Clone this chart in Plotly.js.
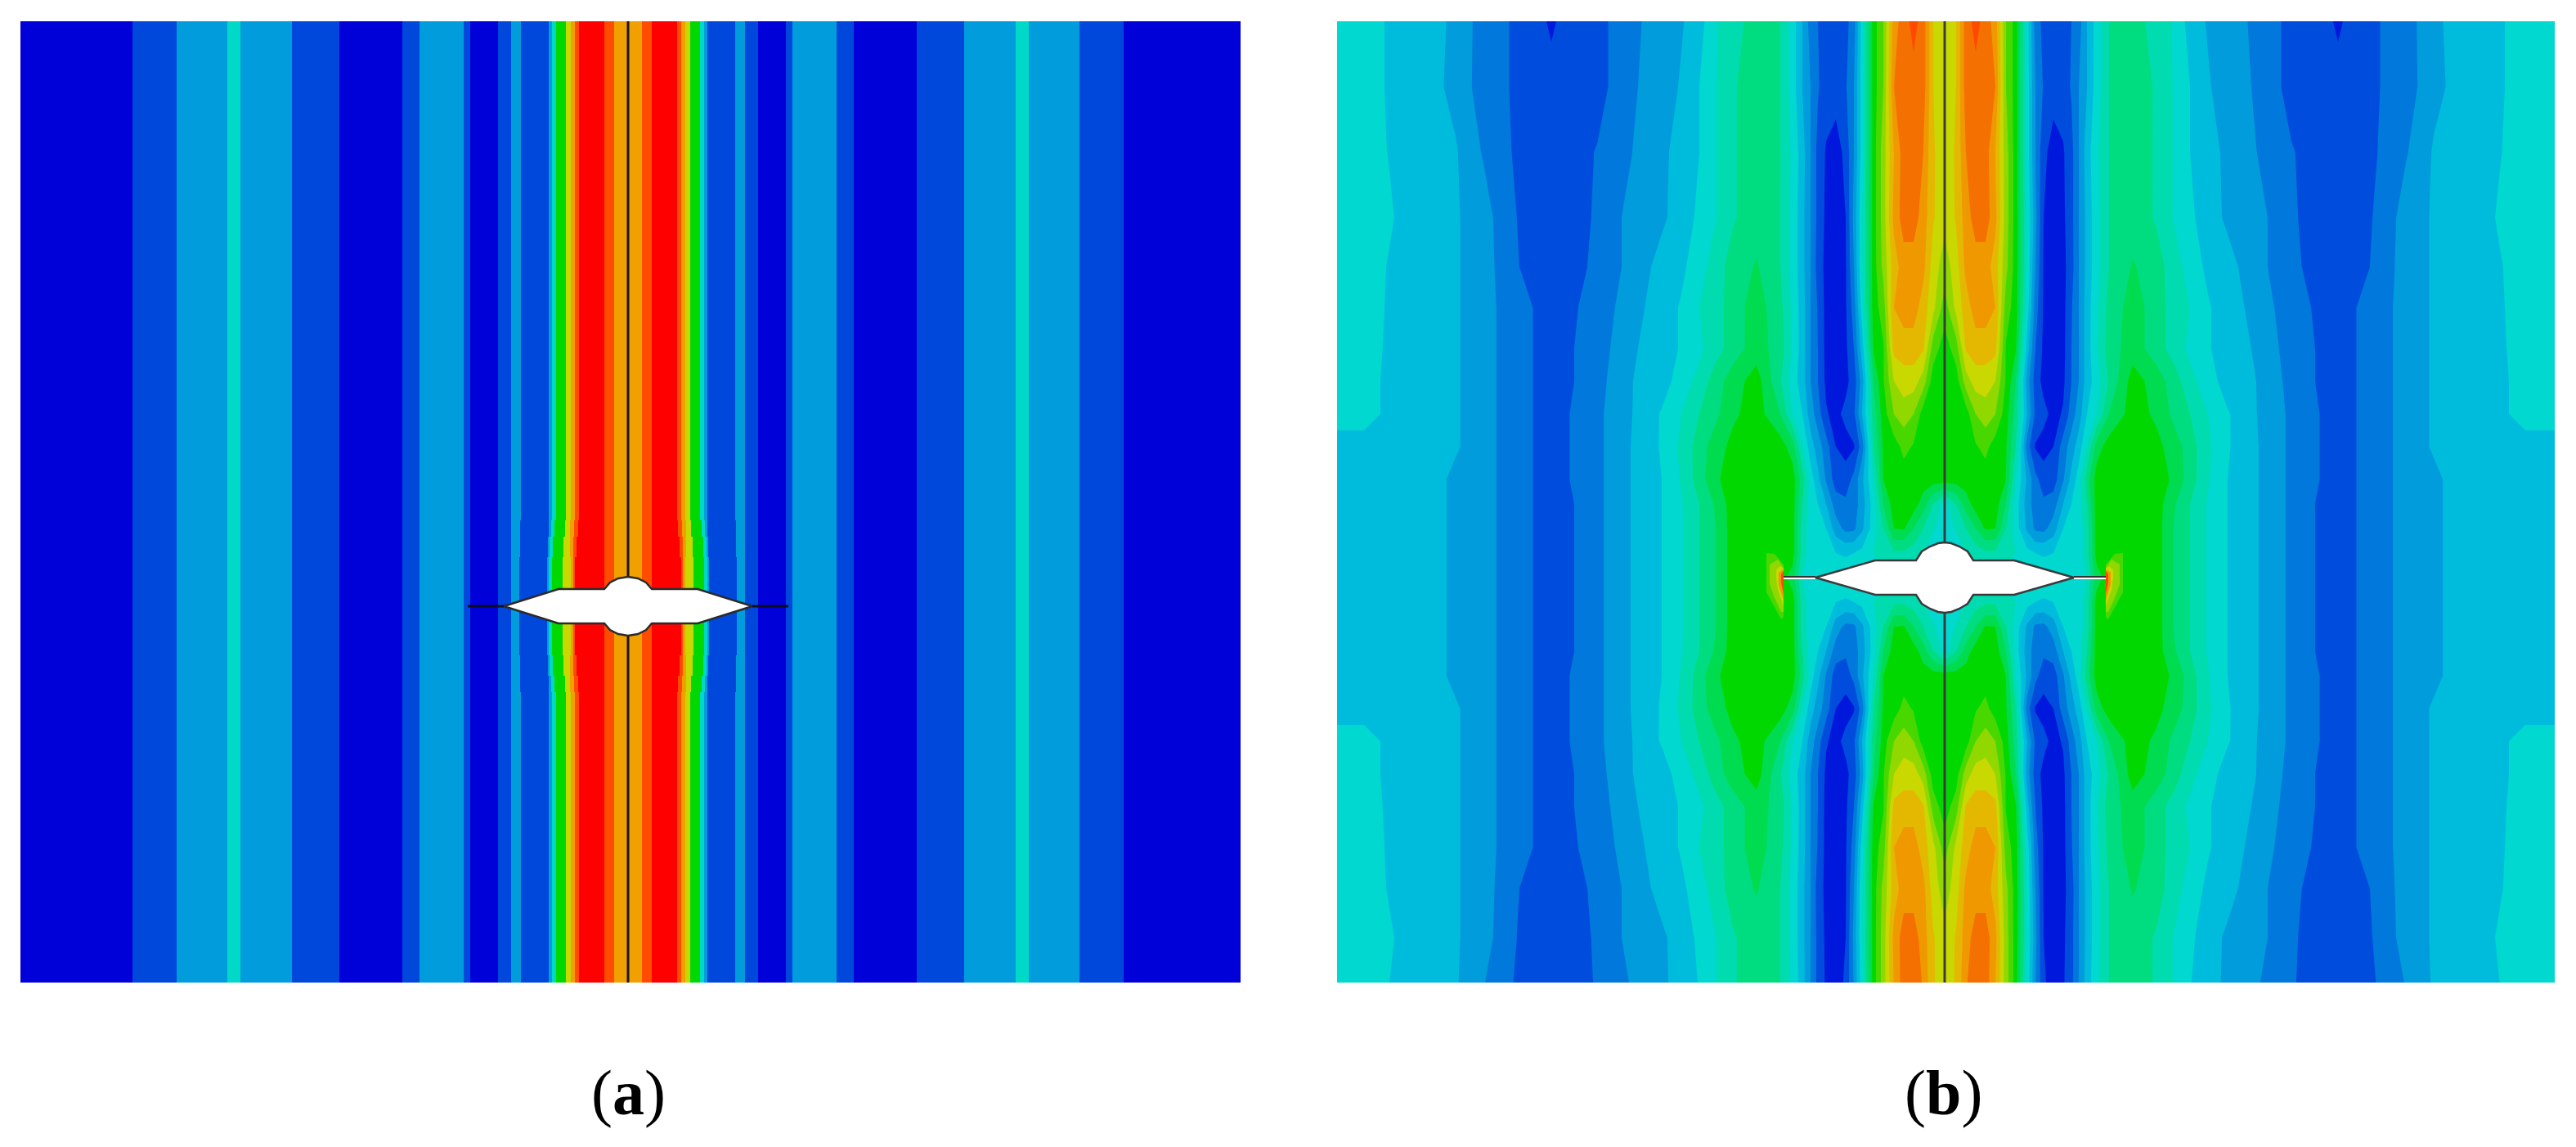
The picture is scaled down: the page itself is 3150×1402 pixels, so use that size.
<!DOCTYPE html>
<html>
<head>
<meta charset="utf-8">
<script src="https://cdn.plot.ly/plotly-3.0.1.min.js"></script>
<style>
    html, body { margin: 0; padding: 0; background: #ffffff; }
    #chart { width: 3150px; height: 1402px; }
</style>
</head>
<body>
<div id="chart"></div>
<script>
// panel (a): stripe colours and stripe outer edges, distance from the centre line
const coloursA = ["#0000d8", "#0048dc", "#009cdc", "#00d8c8", "#00d800", "#c8d800", "#f0a000", "#ff4c00", "#ff0000"];
const bandLevelsA = [6, 7, 8, 7, 6, 5, 4, 3, 2, 1, 2, 1, 0, 1, 2, 1, 0, 1, 2, 3, 2, 1, 0];
const farEdgesA  = [17, 29, 60, 65, 70, 76, 88, 93, 97, 131, 143, 159, 193, 201, 255, 276, 353, 411, 474, 490, 552, 606, 750];
const midEdgesA  = [17, 29, 61, 66, 71, 77, 90, 94, 97, 132, 143, 159, 193, 201, 255, 276, 353, 411, 474, 490, 552, 606, 750];
const nearEdgesA = [17, 29, 63, 67, 71, 79, 92, 96, 98, 132, 143, 159, 193, 201, 255, 276, 353, 411, 474, 490, 552, 606, 750];
const tipEdgesA  = [17, 29, 65, 67, 70, 80, 93, 97, 99, 133, 143, 159, 193, 201, 255, 276, 353, 411, 474, 490, 552, 606, 750];
const rowEdgesA = [-460, -105, -85, -60, 60, 85, 105, 715];
const rowProfilesA = [farEdgesA, midEdgesA, nearEdgesA, tipEdgesA, nearEdgesA, midEdgesA, farEdgesA];

// panel (a): white opening, right upper quarter
const openingDxA = [152, 85, 29, 22, 12, 0];
const openingDyA = [0, 21, 21, 29, 34, 36];

// panel (b): contour colours
const coloursB = ["#0000d8", "#0018dc", "#004cdc", "#0078dc", "#009cdc", "#00bcdc", "#00d8d0", "#00dcb0", "#00dc80",
    "#00dc50", "#00d800", "#48d800", "#90d800", "#c8d800", "#e4b800", "#f09800", "#f47000", "#ff4800", "#ff0000"];

// panel (b): one quarter of the field
const columnsB = [750, 710, 690, 680, 666, 637, 598, 564, 545, 520, 487, 453, 424, 399, 375, 346, 322, 300, 281, 259,
    230, 201, 186, 174, 164, 155, 145, 133, 121, 111, 101, 87, 75, 62, 50, 38, 26, 14, 0];
const rowsB = [685, 600, 520, 440, 380, 330, 280, 240, 200, 160, 120, 90, 60, 30, 0];
const levelsB = [
    [6,6,6,5,5,5,4.3,3,3,2, 2,2,2,3,3.4,4,4.4,5,6.4,7, 8,7.5,6,4.5,3,2.5,2,2,2.2,3, 6,10,11.5,15,16,17,16,13.5,13],
    [6,6,6,5,5,5,4.2,3,3,2, 2,2,2,3,3.5,4,4.6,5.5,6.4,7.4, 8,7.5,6,4.5,3.5,2.6,2,2,2.4,3.5, 6,10,11.5,15.5,16,16,16,13.5,13],
    [6,6,6,5.4,5,5,4.6,3.4,3,2.2, 2,2,2.6,3,3.7,4.2,5,5.5,6.4,7.4, 8,7.5,6.3,5,3.5,2.2,1.4,1,1.8,3.5, 6,10,12,14.5,16,16,15.5,13.6,13],
    [6,6,6,6,5,5,4.6,4,3.2,2.4, 2,2,2.7,3.4,4,4.3,5,5.7,6.4,7.4, 8,7.5,6.2,4.8,3.5,2.2,1.3,1,1.5,3.8, 6.4,10,12,14.8,16,16,15,13.6,12.8],
    [6,6,6,5.3,5,5,4.6,4,3.3,2.5, 2,2,2.9,3.4,4,4.9,5.3,6,7,7.9, 8.6,7.5,6.2,4.8,3.5,2.1,1.2,1,1.4,3.5, 6.4,10,11.8,14,15,15,14.8,13,12],
    [6,6,6,5,5,5,4.6,4,3.4,3, 2,2.4,3,3.6,4.3,5,5.6,6.5,7,8, 9,7.8,6.3,5,3.5,2.4,1.2,1,1.4,3, 6,10,11,14.5,15,15,14,12.8,11],
    [6,6,5.7,5,5,5,4.6,4,3.4,3, 2,2.5,3.2,3.7,4.5,5,5.6,6.3,7,8, 9,8,6.4,5,3.5,2.5,1.2,1,1.3,2.5, 5,9.6,10.4,13.8,14,14,13.6,11,10],
    [6,6,5.5,5,5,5,4.6,4,3.4,3, 2,2.5,3.2,3.9,4.7,5,6,6.8,8,9, 10,7.6,6,5,3.5,2.5,1.3,1,1.2,2, 4,8.5,10.4,12.5,13,13,12,10,10],
    [6,6,5.5,5,5,5,4.6,4,3.4,3, 2,2.6,3.3,4,4.7,5.6,6.5,7.5,8.2,9.3, 10,8.5,6.5,5.5,4,3,1.6,1.2,1.8,2.3, 4.5,8,10,11.5,12,11.5,10,10,10],
    [5,5,5,5,5,5,4.6,4,3.4,3, 2,2.6,3.3,4,4.8,5.6,6.7,8,9,9.8, 10,10,9,6.5,5,4,3,1.5,1.1,1.4, 3,7.5,9.6,10,10.8,10.4,10,10,10],
    [5,5,5,5,5,5,4.3,4,3.4,3, 2,2.6,3.3,4,4.8,5.5,6.6,8,9.3,10, 10,10,10,8,6,4.8,3.4,2,2,2.8, 4.3,6.5,9.5,10,10,10,10,10,10],
    [5,5,5,5,5,5,4.3,4,3.4,3, 2,2.5,3.3,4,4.8,5.5,6.4,7.5,8.6,10, 10,10,10,7.5,6,5.5,4.5,3,2.7,3, 4,6,8.5,10,10,10,9,7.5,6],
    [5,5,5,5,5,5,4.3,4,3.4,3, 2,2.5,3.3,4,4.8,5.5,6.4,7.5,8.4,10, 10,10,10,7,6,6,5.5,4,3.2,3.3, 4.3,6,7.5,9.5,9.6,8.5,7.5,6.6,6],
    [5,5,5,5,5,5,4.3,4,3.4,3, 2,2.5,3.3,4,4.8,5.5,6.4,7.5,8.4,10, 10,10,10,7,6,6,6,5.5,5.4,5.5, 5.8,6.5,7,7.3,7.3,7,6.5,6,6],
    [5,5,5,5,5,5,4.3,4,3.4,3, 2,2.5,3.3,4,4.8,5.5,6.4,7.5,8.4,10, 10,10,9,6.5,6,6,6,6,6,6, 6,6,6,6,6,6,6,6,6]
];

// panel (b): hot spots at the stub ends, outer to inner
const spotLevels = [11, 12, 13, 15, 17];
const spotDx = [
    [218, 208, 197, 197, 200, 212, 218],
    [214, 204, 197, 197, 200, 209, 214],
    [206, 201, 197, 197, 204, 206],
    [203, 197, 197, 203],
    [200, 197, 197, 200]
];
const spotDy = [
    [30, 29, 16, -48, -51, -30, -18],
    [16, 22, 12, -42, -42, -22, -8],
    [10, 14, 11, -35, -15, 0],
    [6, 10, -28, -8],
    [4, 8, -20, -6]
];

// panel (b): small dark wedge at the top edge
const wedgeDx = [487, 475, 481];
const wedgeDy = [680, 680, 655];

// panel (b): white opening, right upper quarter
const openingDxB = [158, 85, 35, 28, 18, 8, 0];
const openingDyB = [0, 21, 21, 32, 38, 42, 43];

const captions = ["(<b>a</b>)", "(<b>b</b>)"];

function stripeGridA() {
    const all = new Set([0]);
    [farEdgesA, midEdgesA, nearEdgesA, tipEdgesA].forEach(edges => edges.forEach(e => { all.add(e); all.add(-e); }));
    const xs = Array.from(all).sort((a, b) => a - b);
    const z = rowProfilesA.map(edges => {
        const row = [];
        for (let i = 0; i < xs.length - 1; i++) {
            const mid = Math.abs((xs[i] + xs[i + 1]) / 2);
            const band = edges.findIndex(e => mid < e);
            row.push(bandLevelsA[band]);
        }
        return row;
    });
    return { xs: xs, z: z };
}

// closes the quarter outline around the four quadrants
function openingOutline(dx, dy) {
    const n = dx.length;
    const x = [], y = [];
    for (let i = 0; i < n; i++) { x.push(dx[i]); y.push(dy[i]); }
    for (let i = n - 2; i >= 0; i--) { x.push(-dx[i]); y.push(dy[i]); }
    for (let i = 1; i < n; i++) { x.push(-dx[i]); y.push(-dy[i]); }
    for (let i = n - 2; i >= 0; i--) { x.push(dx[i]); y.push(-dy[i]); }
    return { x: x, y: y };
}

function lineTrace(x, y, color, width, axis) {
    return {
        x: x, y: y, mode: "lines", xaxis: "x" + axis, yaxis: "y" + axis,
        line: { color: color, width: width }, hoverinfo: "skip", showlegend: false
    };
}

function openingTrace(outline, color, width, axis) {
    return {
        x: outline.x, y: outline.y, mode: "lines", xaxis: "x" + axis, yaxis: "y" + axis,
        fill: "toself", fillcolor: "#ffffff", line: { color: color, width: width },
        hoverinfo: "skip", showlegend: false
    };
}

function patchTrace(x, y, color) {
    return {
        x: x, y: y, mode: "lines", xaxis: "x2", yaxis: "y2",
        fill: "toself", fillcolor: color, line: { width: 0, color: color },
        hoverinfo: "skip", showlegend: false
    };
}

const gridA = stripeGridA();
const stepScaleA = coloursA.map((c, i) => [i / (coloursA.length - 1), c]);
const stepScaleB = coloursB.map((c, i) => [i / (coloursB.length - 1), c]);

// mirror the quarter into the whole panel
const xB = columnsB.map(v => -v).concat(columnsB.slice(0, -1).reverse());
const yB = rowsB.concat(rowsB.slice(0, -1).reverse().map(v => -v));
const halfB = levelsB.map(row => row.concat(row.slice(0, -1).reverse()));
const zB = halfB.concat(halfB.slice(0, -1).reverse());

const traces = [
    {
        type: "heatmap", x: gridA.xs, y: rowEdgesA, z: gridA.z,
        xaxis: "x", yaxis: "y", colorscale: stepScaleA, zmin: 0, zmax: coloursA.length - 1,
        showscale: false, hoverinfo: "skip"
    },
    lineTrace([0, 0], [715, 36], "#1c1408", 3, ""),
    lineTrace([0, 0], [-36, -460], "#1c1408", 3, ""),
    lineTrace([-196, -152], [0, 0], "#0a0a20", 3, ""),
    lineTrace([152, 196], [0, 0], "#0a0a20", 3, ""),
    openingTrace(openingOutline(openingDxA, openingDyA), "#2a2a2a", 2.5, ""),
    {
        type: "contour", x: xB, y: yB, z: zB,
        xaxis: "x2", yaxis: "y2", autocontour: false,
        contours: { coloring: "fill", showlines: false, start: 0.5, end: coloursB.length - 1.5, size: 1 },
        line: { width: 0, smoothing: 0 }, colorscale: stepScaleB,
        showscale: false, hoverinfo: "skip"
    }
];

[1, -1].forEach(side => {
    spotLevels.forEach((level, i) => {
        traces.push(patchTrace(spotDx[i].map(v => v * side), spotDy[i], coloursB[level]));
    });
    traces.push(patchTrace(wedgeDx.map(v => v * side), wedgeDy, coloursB[1]));
    traces.push(lineTrace([158 * side, 197 * side], [-1, -1], "#ffffff", 2, "2"));
    traces.push(lineTrace([158 * side, 197 * side], [1, 1], "#333333", 2, "2"));
});
traces.push(lineTrace([0, 0], [680, 43], "#3c3c3c", 3, "2"));
traces.push(lineTrace([0, 0], [-43, -495], "#3c3c3c", 3, "2"));
traces.push(openingTrace(openingOutline(openingDxB, openingDyB), "#3a3a3a", 2.5, "2"));

const W = 3150, H = 1402;
const hidden = { visible: false, fixedrange: true };

const layout = {
    width: W,
    height: H,
    margin: { l: 0, r: 0, t: 0, b: 0 },
    paper_bgcolor: "#ffffff",
    plot_bgcolor: "#ffffff",
    showlegend: false,
    xaxis: { ...hidden, domain: [25 / W, 1517 / W], range: [-743, 749] },
    yaxis: { ...hidden, domain: [1 - 1201 / H, 1 - 26 / H], range: [-460, 715] },
    xaxis2: { ...hidden, domain: [1635 / W, 3124 / W], range: [-743, 746] },
    yaxis2: { ...hidden, domain: [1 - 1201 / H, 1 - 26 / H], anchor: "x2", range: [-495, 680] },
    annotations: captions.map((text, i) => ({
        text: text,
        xref: "paper", yref: "paper",
        x: [768 / W, 2376 / W][i], y: 1 - 1335 / H,
        xanchor: "center", yanchor: "middle",
        showarrow: false,
        font: { family: "Liberation Serif", size: 78, color: "#000000" }
    }))
};

Plotly.newPlot("chart", traces, layout, { displayModeBar: false, staticPlot: true });
</script>
</body>
</html>
